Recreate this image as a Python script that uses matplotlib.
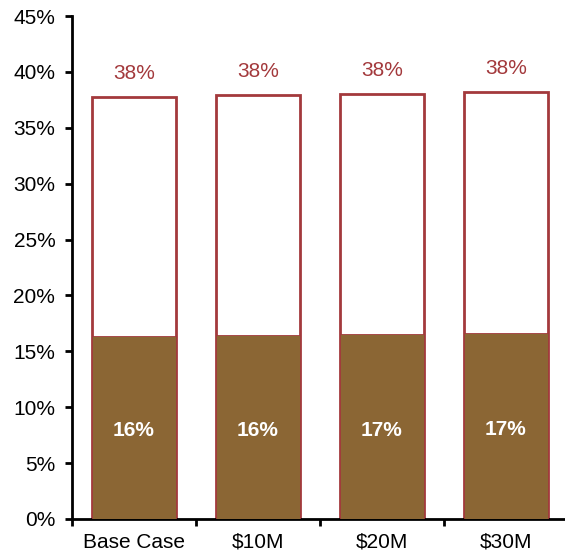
import numpy as np
import matplotlib.pyplot as plt
from matplotlib.ticker import FuncFormatter

plt.rcParams['font.family'] = ['Liberation Sans', 'DejaVu Sans']

categories = ['Base Case', '$10M', '$20M', '$30M']
lower = [16.35, 16.42, 16.52, 16.6]
total = [37.75, 37.9, 38.02, 38.23]

brown = '#8B6634'
red = '#A3393C'

fig = plt.figure(figsize=(5.65, 5.56), dpi=100)
ax = fig.add_axes([72/565, 37/556, 496/565, 503/556])

x = np.arange(len(categories))
w = 0.68
ax.bar(x, total, w, color='white', edgecolor=red, linewidth=2, zorder=2)
ax.bar(x, lower, w, color=brown, edgecolor=red, linewidth=0.6, zorder=3)

for xi, t, b in zip(x, total, lower):
    ax.annotate(f'{round(t)}%', (xi, t), xytext=(0, 10), textcoords='offset points',
                ha='center', va='bottom', color=red, fontsize=15)
    ax.text(xi, b / 2 - 0.3, f'{int(b + 0.5)}%', ha='center', va='center', color='white',
            fontsize=15, fontweight='bold', zorder=4)

ax.set_xlim(-0.5, len(categories) - 0.5)
ax.set_ylim(0, 45)
ax.set_yticks(np.arange(0, 46, 5))
ax.yaxis.set_major_formatter(FuncFormatter(lambda v, p: f'{v:.0f}%'))
ax.set_xticks(x)
ax.set_xticklabels(categories)
ax.set_xticks(np.arange(-0.5, len(categories), 1), minor=True)
ax.tick_params(axis='x', which='major', length=0, labelsize=15, pad=10)
ax.tick_params(axis='x', which='minor', length=5, width=2, direction='out')
ax.tick_params(axis='y', length=5, width=2, labelsize=15, pad=7)

for s in ['top', 'right']:
    ax.spines[s].set_visible(False)
for s in ['left', 'bottom']:
    ax.spines[s].set_linewidth(2)

fig.savefig('out.png', dpi=100)
